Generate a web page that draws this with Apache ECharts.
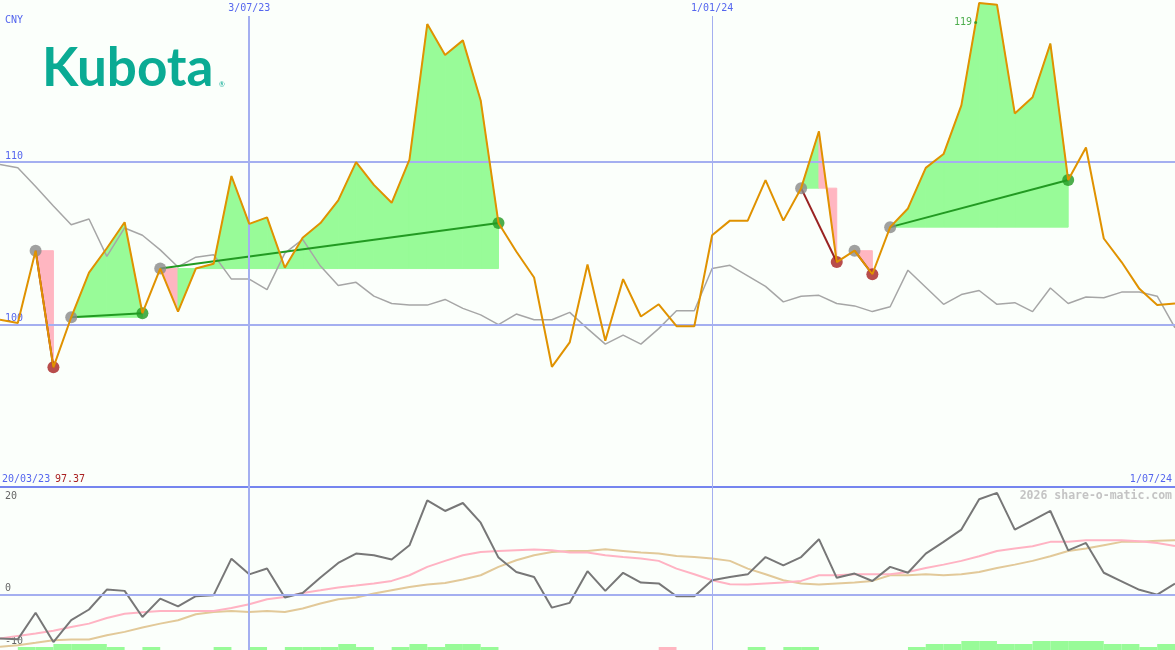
<!DOCTYPE html>
<html><head><meta charset="utf-8">
<script src="https://cdn.jsdelivr.net/npm/echarts@6/dist/echarts.min.js"></script>
<style>html,body{margin:0;padding:0;background:#fbfffb}#c{width:1175px;height:650px}</style>
</head><body><div id="c"></div><script>
// weekly closes, index 0 = first week shown
const price = [100.3,100.1,104.55,97.37,100.45,103.2,104.7,106.3,100.7,103.45,
  100.8,103.45,103.75,109.15,106.2,106.6,103.5,105.35,106.25,107.65,
  110.0,108.6,107.5,110.15,118.5,116.6,117.5,113.8,106.25,104.5,
  102.9,97.4,98.9,103.7,99.0,102.8,100.5,101.25,99.9,99.9,
  105.5,106.4,106.4,108.9,106.4,108.4,111.9,103.85,104.55,103.1,
  106.0,107.15,109.65,110.5,113.5,119.8,119.7,113.0,114.0,117.3,
  108.9,110.9,105.3,103.85,102.2,101.2,101.3];
const compare = [109.85,109.65,108.5,107.3,106.15,106.5,104.2,105.95,105.5,104.6,
  103.55,104.15,104.3,102.8,102.8,102.15,104.4,105.25,103.6,102.4,
  102.6,101.75,101.3,101.2,101.2,101.55,101.0,100.6,100.0,100.65,
  100.3,100.3,100.75,99.75,98.8,99.35,98.8,99.75,100.85,100.85,
  103.45,103.65,103.0,102.35,101.4,101.75,101.8,101.3,101.15,100.8,
  101.1,103.35,102.3,101.25,101.85,102.1,101.25,101.35,100.8,102.25,
  101.3,101.7,101.65,102.0,102.0,101.75,99.8];
const osc = [-8.25,-8.4,-3.4,-8.9,-4.8,-2.8,0.95,0.7,-4.2,-0.75,
  -2.2,-0.3,-0.1,6.75,3.8,4.9,-0.55,0.3,3.2,5.95,
  7.7,7.4,6.6,9.25,17.7,15.7,17.2,13.5,6.95,4.25,
  3.3,-2.45,-1.55,4.4,0.7,4.1,2.25,2.1,-0.3,-0.3,
  2.7,3.3,3.8,7.05,5.5,7.05,10.4,3.15,3.95,2.55,
  5.2,4.1,7.7,9.9,12.2,17.9,19.1,12.2,13.95,15.7,
  8.3,9.7,4.1,2.5,0.9,0.0,2.05];
const oscFast = [-8.25,-7.75,-7.3,-6.8,-6.1,-5.45,-4.4,-3.6,-3.3,-3.1,
  -3.1,-3.06,-3.06,-2.5,-1.8,-0.87,-0.43,0.32,0.8,1.32,
  1.69,2.07,2.57,3.63,5.2,6.33,7.39,8.0,8.2,8.33,
  8.45,8.33,7.9,7.9,7.39,7.07,6.76,6.33,4.88,3.82,
  2.69,1.95,1.88,2.07,2.26,2.57,3.63,3.63,3.82,3.82,
  3.82,4.26,5.0,5.63,6.33,7.2,8.2,8.64,9.08,9.9,
  9.9,10.2,10.2,10.2,10.0,9.7,9.13];
const oscSlow = [-9.81,-9.5,-9.06,-8.56,-8.44,-8.44,-7.63,-7.0,-6.19,-5.45,
  -4.81,-3.69,-3.25,-3.06,-3.25,-3.06,-3.25,-2.62,-1.68,-0.87,
  -0.56,0.19,0.82,1.44,1.88,2.19,2.82,3.63,5.2,6.45,
  7.39,8.0,8.2,8.2,8.5,8.2,7.9,7.7,7.26,7.07,
  6.76,6.33,4.88,3.82,2.69,2.07,1.88,2.07,2.26,2.57,
  3.63,3.63,3.82,3.63,3.82,4.26,5.0,5.63,6.33,7.2,
  8.2,8.64,9.27,9.9,9.9,10.1,10.2];
// [entry index, exit index]
const trades = [[2,3],[4,8],[9,28],[45,47],[48,49],[50,60]];
// [week interval, level] (negative = pink)
const signalBars = [[1,1],[2,1],[3,2],[4,2],[5,2],[6,1],[8,1],[12,1],[14,1],[16,1],[17,1],[18,1],[19,2],[20,1],
  [22,1],[23,2],[24,1],[25,2],[26,2],[27,1],[37,-1],[42,1],[44,1],[45,1],[51,1],[52,2],[53,2],[54,3],[55,3],
  [56,2],[57,2],[58,3],[59,3],[60,3],[61,3],[62,2],[63,2],[64,1],[65,2]];
const dateTicks = [14, 40];
const dateLabels = ['3/07/23', '1/01/24'];
const priceTicks = [100, 110];
const oscTicksLow = [0, -10];
const oscTicksTop = [20];
const startLabel = '20/03/23', endLabel = '1/07/24', currency = 'CNY';
const brand = 'Kubota', credit = '2026 share-o-matic.com';

const MONO = 'DejaVu Sans Mono';
const BLUE = '#5566ee', GRID = '#a4aff0', GREEN = '#98fb98', PINK = '#ffb6c1';
const N = price.length - 1;

const fillData = [];
trades.forEach(([e, x]) => {
  const base = price[e];
  for (let k = e; k < x; k++) fillData.push([k, price[k], k + 1, price[k + 1], base, price[k + 1] >= base ? 1 : 0]);
});
const connData = trades.map(([e, x]) => [e, price[e], x, price[x], price[x] >= price[e] ? 1 : 0]);
const dotData = [];
trades.forEach(([e, x]) => {
  dotData.push({value: [e, price[e]], itemStyle: {color: '#8a8a8a'}});
  dotData.push({value: [x, price[x]], itemStyle: {color: price[x] >= price[e] ? '#229a22' : '#a82020'}});
});
const pMax = Math.max(...price), pMin = Math.min(...price);
const toXY = arr => arr.map((v, i) => [i, v]);

const chart = echarts.init(document.getElementById('c'), null, {renderer: 'canvas'});
const vLines = (top, bottom) => dateTicks.map((t, j) => [
  {coord: [t, top], lineStyle: {color: GRID, width: j === 0 ? 2 : 1, type: 'solid'}},
  {coord: [t, bottom]}]);

chart.setOption({
  backgroundColor: '#fbfffb',
  animation: false,
  grid: [
    {left: 0, right: 0, top: 16, height: 471},
    {left: 0, right: 0, top: 487, height: 163},
    {left: 0, right: 0, top: 620, height: 30}
  ],
  xAxis: [
    {gridIndex: 0, type: 'value', min: 0, max: N, position: 'top',
     axisLine: {show: false}, axisTick: {show: false}, splitLine: {show: false},
     axisLabel: {show: true, customValues: dateTicks, margin: 3, color: BLUE, fontFamily: MONO, fontSize: 10,
       formatter: v => dateLabels[dateTicks.indexOf(v)] || ''}},
    {gridIndex: 1, type: 'value', min: 0, max: N, show: false},
    {gridIndex: 2, type: 'value', min: 0, max: N, show: false}
  ],
  yAxis: [
    {gridIndex: 0, type: 'value', min: 90, max: 119, axisLine: {show: false}, axisTick: {show: false}, splitLine: {show: false},
     axisLabel: {inside: true, customValues: priceTicks, margin: 5, verticalAlign: 'bottom', padding: [0,0,1,0], color: BLUE, fontFamily: MONO, fontSize: 10}},
    {gridIndex: 1, type: 'value', min: -10.4, max: 20.2, axisLine: {show: false}, axisTick: {show: false}, splitLine: {show: false},
     axisLabel: {inside: true, customValues: oscTicksLow, margin: 5, verticalAlign: 'bottom', padding: [0,0,1,0], color: '#666', fontFamily: MONO, fontSize: 10}},
    {gridIndex: 2, type: 'value', min: 0, max: 10, show: false},
    {gridIndex: 1, type: 'value', min: -10.4, max: 20.2, position: 'left', axisLine: {show: false}, axisTick: {show: false}, splitLine: {show: false},
     axisLabel: {inside: true, customValues: oscTicksTop, margin: 5, verticalAlign: 'top', padding: [3,0,0,0], color: '#666', fontFamily: MONO, fontSize: 10}}
  ],
  series: [
    {type: 'custom', name: 'fills', xAxisIndex: 0, yAxisIndex: 0, z: 1, clip: false, silent: true,
     data: fillData,
     renderItem: (params, api) => {
       const a = api.coord([api.value(0), api.value(4)]);
       const b = api.coord([api.value(0), api.value(1)]);
       const c = api.coord([api.value(2), api.value(3)]);
       const d = api.coord([api.value(2), api.value(4)]);
       const col = api.value(5) ? GREEN : PINK;
       return {type: 'polygon', shape: {points: [a, b, c, d]}, style: {fill: col, stroke: col, lineWidth: 1}};
     }},
    {type: 'line', name: 'compare', xAxisIndex: 0, yAxisIndex: 0, z: 2, data: toXY(compare), symbol: 'none',
     lineStyle: {color: '#a6a6a6', width: 1.5},
     markLine: {silent: true, symbol: ['none', 'none'], label: {show: false},
       data: [
         ...priceTicks.map(v => ({yAxis: v, lineStyle: {color: GRID, width: 2, type: 'solid'}})),
         {yAxis: 90, lineStyle: {color: '#7585ef', width: 2, type: 'solid'}},
         ...vLines(119, 90)
       ]}},
    {type: 'custom', name: 'trades', xAxisIndex: 0, yAxisIndex: 0, z: 3, silent: true, data: connData,
     renderItem: (params, api) => {
       const a = api.coord([api.value(0), api.value(1)]);
       const b = api.coord([api.value(2), api.value(3)]);
       return {type: 'line', shape: {x1: a[0], y1: a[1], x2: b[0], y2: b[1]},
         style: {stroke: api.value(4) ? '#229a22' : '#992222', lineWidth: 2}};
     }},
    {type: 'scatter', name: 'signals', xAxisIndex: 0, yAxisIndex: 0, z: 4, symbolSize: 12, data: dotData, silent: true},
    {type: 'line', name: 'price', xAxisIndex: 0, yAxisIndex: 0, z: 5, clip: false, data: toXY(price), symbol: 'none',
     lineStyle: {color: '#e09200', width: 2}},
    {type: 'scatter', name: 'high', xAxisIndex: 0, yAxisIndex: 0, z: 6, symbolSize: 3, silent: true,
     itemStyle: {color: '#229a22'},
     data: [[54.8, 118.6]],
     label: {show: true, position: 'left', distance: 2, formatter: () => String(Math.floor(pMax)),
       color: '#229a22', fontFamily: MONO, fontSize: 10}},
    {type: 'line', name: 'slow', xAxisIndex: 1, yAxisIndex: 1, z: 2, data: toXY(oscSlow), symbol: 'none',
     lineStyle: {color: '#e2c999', width: 2}},
    {type: 'line', name: 'fast', xAxisIndex: 1, yAxisIndex: 1, z: 3, data: toXY(oscFast), symbol: 'none',
     lineStyle: {color: '#ffb3c3', width: 2}},
    {type: 'line', name: 'osc', xAxisIndex: 1, yAxisIndex: 1, z: 4, data: toXY(osc), symbol: 'none',
     lineStyle: {color: '#777777', width: 2},
     markLine: {silent: true, symbol: ['none', 'none'], label: {show: false},
       data: [{yAxis: 0, lineStyle: {color: GRID, width: 2, type: 'solid'}}, ...vLines(20.2, -10.4)]}},
    {type: 'custom', name: 'bars', xAxisIndex: 2, yAxisIndex: 2, z: 2, silent: true, data: signalBars,
     renderItem: (params, api) => {
       const lv = api.value(1);
       const p0 = api.coord([api.value(0), 0]);
       const p1 = api.coord([api.value(0) + 1, Math.abs(lv)]);
       return {type: 'rect', shape: {x: p0[0], y: p1[1], width: p1[0] - p0[0], height: p0[1] - p1[1]},
         style: {fill: lv < 0 ? PINK : GREEN}};
     }}
  ],
  graphic: [
    {type: 'text', left: 5, top: 15, style: {text: currency, font: '10px ' + MONO, fill: BLUE}},
    {type: 'text', left: 42, top: 42, style: {text: brand, font: 'bold 53px Lato', fill: '#0aab94'}},
    {type: 'text', left: 219, top: 81, style: {text: '®', font: '7px Lato', fill: '#0aab94'}},
    {type: 'text', left: 2, top: 474, style: {text: startLabel, font: '10px ' + MONO, fill: BLUE}},
    {type: 'text', left: 55, top: 474, style: {text: pMin.toFixed(2), font: '10px ' + MONO, fill: '#aa2222'}},
    {type: 'text', right: 3, top: 474, style: {text: endLabel, font: '10px ' + MONO, fill: BLUE}},
    {type: 'text', right: 3, top: 490, style: {text: credit, font: 'bold 11.5px ' + MONO, fill: '#c4c4c4'}}
  ]
});
</script></body></html>
